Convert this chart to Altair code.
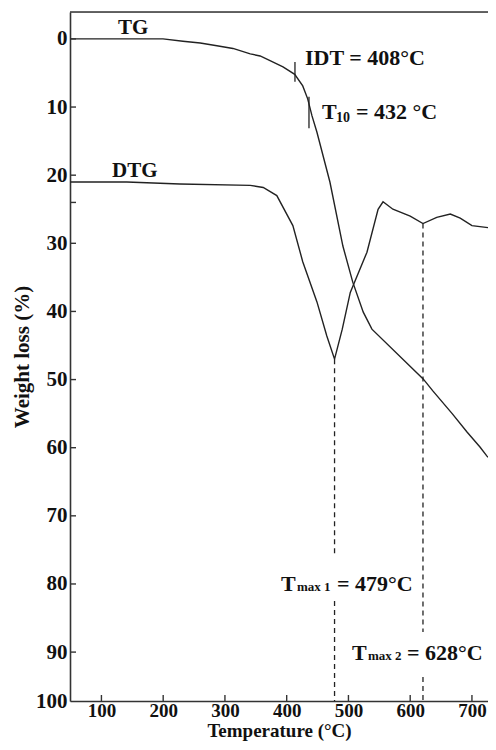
import altair as alt
import pandas as pd

# ---------------- data ----------------
tg_temp = [49.5, 199.7, 232, 260, 287, 313, 341, 357, 373, 394, 413, 426, 434, 441,
           449, 470, 491, 507, 524, 538, 621, 637, 668, 692, 713, 724, 726]
tg_loss = [0, 0, 0.35, 0.6, 1.0, 1.4, 2.2, 2.5, 3.2, 4.1, 5.2, 6.9, 8.8, 11.3,
           13.7, 21.0, 30.4, 35.7, 40.1, 42.6, 49.9, 51.7, 55.0, 57.7, 59.9, 61.2, 61.4]

dtg_temp = [49.5, 141, 227, 341, 362, 384, 410, 426, 449, 465, 477.5, 490, 503, 530,
            548, 556, 572, 600, 620.7, 643, 665, 681, 700, 726]
dtg_val = [21.0, 21.0, 21.3, 21.5, 21.8, 23.0, 27.4, 32.7, 38.6, 43.6, 47.0, 42.6, 37.2, 31.3,
           25.0, 23.9, 25.0, 26.0, 27.1, 26.2, 25.7, 26.3, 27.4, 27.7]

x_ticks = [100, 200, 300, 400, 500, 600, 700]
y_ticks = [0, 10, 20, 30, 40, 50, 60, 70, 80, 90, 100]
y_minor = [24]

# dashed drop lines (Tmax1, Tmax2), broken where the labels sit
dash_temp = [477.5, 477.5, 620.7, 620.7]
dash_from = [47.0, 82.5, 27.1, 95.1]
dash_to = [75.9, 100, 87.05, 100]

# small marker strokes on the TG curve (IDT, T10)
mark_temp = [413.4, 436.1]
mark_from = [3.4, 8.5]
mark_to = [6.3, 13.1]

# curve name labels
name_text = ["TG", "DTG"]
name_temp = [126.8, 117.1]
name_val = [-0.72, 20.27]

# annotation labels: main pieces
lab_text = ["IDT = 408°C", "T", "T", "T"]
lab_temp = [429.6, 457.2, 390.8, 505.7]
lab_val = [3.78, 11.75, 81.03, 91.68]
# subscripts
sub_text = ["10", "max 1", "max 2"]
sub_temp = [457.2, 390.8, 505.7]
sub_val = [11.75, 81.03, 91.68]
sub_dx = [14, 16, 16]
sub_dy = [3, 0, 0]
sub_size = [14, 13, 13]
# tails after subscripts
tail_text = ["= 432 °C", "= 479°C", "= 628°C"]
tail_temp = [457.2, 390.8, 505.7]
tail_val = [11.75, 81.03, 91.68]
tail_dx = [34, 56, 55]

X_MIN, X_MAX = 49.1, 726.0
Y_MIN = -3.95
W, H = 418, 689
Y90_PX = 640.1

FONT = "Liberation Serif"
INK = "#222222"

xscale = alt.Scale(domain=[X_MIN, X_MAX], nice=False, zero=False)
yscale = alt.Scale(domain=[Y_MIN, 90, 100], range=[0, Y90_PX, H], nice=False, zero=False)

x_axis = alt.Axis(values=x_ticks, title="Temperature (°C)", tickSize=0, labelPadding=0,
                  labelFontSize=19, labelFont=FONT, labelFontWeight="bold", labelColor="#111",
                  titleFont=FONT, titleFontSize=19, titleFontWeight="bold", titleColor="#111",
                  titlePadding=1, domainColor="#333", domainWidth=1.6, grid=False)
y_axis = alt.Axis(values=y_ticks, title="Weight loss (%)", tickSize=0, labelPadding=3,
                  labelFontSize=21, labelFont=FONT, labelFontWeight="bold", labelColor="#111",
                  titleFont=FONT, titleFontSize=21, titleFontWeight="bold", titleColor="#111",
                  titlePadding=3, domainColor="#333", domainWidth=1.6, grid=False)


def X(field):
    return alt.X(field, scale=xscale, axis=x_axis)


def Y(field):
    return alt.Y(field, scale=yscale, axis=y_axis)


tg_df = pd.DataFrame({"temp": tg_temp, "val": tg_loss, "curve": "TG"})
dtg_df = pd.DataFrame({"temp": dtg_temp, "val": dtg_val, "curve": "DTG"})
curves = pd.concat([tg_df, dtg_df], ignore_index=True)

base_curves = alt.Chart(curves).mark_line(color=INK, strokeWidth=1.4).encode(
    x=X("temp:Q"), y=Y("val:Q"), detail="curve:N",
)

dash_df = pd.DataFrame({"temp": dash_temp, "y1": dash_from, "y2": dash_to})
dashes = alt.Chart(dash_df).mark_rule(color=INK, strokeWidth=1.3, strokeDash=[5, 4]).encode(
    x=X("temp:Q"), y=Y("y1:Q"), y2="y2:Q",
)

mark_df = pd.DataFrame({"temp": mark_temp, "y1": mark_from, "y2": mark_to})
markers = alt.Chart(mark_df).mark_rule(color=INK, strokeWidth=1.3).encode(
    x=X("temp:Q"), y=Y("y1:Q"), y2="y2:Q",
)

# inward-pointing axis ticks
xt_df = pd.DataFrame({"t": x_ticks, "a": 100.0, "b": 100 - 6 * 10 / (H - Y90_PX)})
xticks = alt.Chart(xt_df).mark_rule(color="#333", strokeWidth=1.4).encode(
    x=X("t:Q"), y=Y("a:Q"), y2="b:Q",
)
yt_vals = [v for v in y_ticks if v < 100] + y_minor
yt_df = pd.DataFrame({"t": yt_vals, "a": X_MIN, "b": X_MIN + 6 * (X_MAX - X_MIN) / W})
yticks = alt.Chart(yt_df).mark_rule(color="#333", strokeWidth=1.4).encode(
    y=Y("t:Q"), x=X("a:Q"), x2="b:Q",
)

# top frame line
top_df = pd.DataFrame({"a": [X_MIN], "b": [X_MAX], "y": [Y_MIN]})
topline = alt.Chart(top_df).mark_rule(color="#333", strokeWidth=1.6).encode(
    x=X("a:Q"), x2="b:Q", y=Y("y:Q"),
)

name_df = pd.DataFrame({"temp": name_temp, "val": name_val, "text": name_text})
names = alt.Chart(name_df).mark_text(align="left", baseline="alphabetic", font=FONT,
                                     fontSize=21, fontWeight="bold", color="#111").encode(
    x=X("temp:Q"), y=Y("val:Q"), text="text:N",
)

lab_df = pd.DataFrame({"temp": lab_temp, "val": lab_val, "text": lab_text})
labels = alt.Chart(lab_df).mark_text(align="left", baseline="alphabetic", font=FONT,
                                     fontSize=22, fontWeight="bold", color="#111").encode(
    x=X("temp:Q"), y=Y("val:Q"), text="text:N",
)

sub_layers = []
for t, xv, yv, dx, dy, fs in zip(sub_text, sub_temp, sub_val, sub_dx, sub_dy, sub_size):
    d = pd.DataFrame({"temp": [xv], "val": [yv], "text": [t]})
    sub_layers.append(alt.Chart(d).mark_text(align="left", baseline="alphabetic", font=FONT,
                                             fontSize=fs, fontWeight="bold", color="#111",
                                             dx=dx, dy=dy).encode(
        x=X("temp:Q"), y=Y("val:Q"), text="text:N",
    ))

tail_layers = []
for t, xv, yv, dx in zip(tail_text, tail_temp, tail_val, tail_dx):
    d = pd.DataFrame({"temp": [xv], "val": [yv], "text": [t]})
    tail_layers.append(alt.Chart(d).mark_text(align="left", baseline="alphabetic", font=FONT,
                                              fontSize=22, fontWeight="bold", color="#111",
                                              dx=dx).encode(
        x=X("temp:Q"), y=Y("val:Q"), text="text:N",
    ))

chart = alt.layer(base_curves, dashes, markers, xticks, yticks, topline, names, labels,
                  *sub_layers, *tail_layers).properties(
    width=W, height=H,
    padding={"left": 62, "top": 4, "right": 0, "bottom": 41},
    autosize=alt.AutoSizeParams(type="none"),
).configure_view(stroke=None).configure(background="white")

chart.save("out.html", embed_options={"renderer": "svg", "actions": False})
